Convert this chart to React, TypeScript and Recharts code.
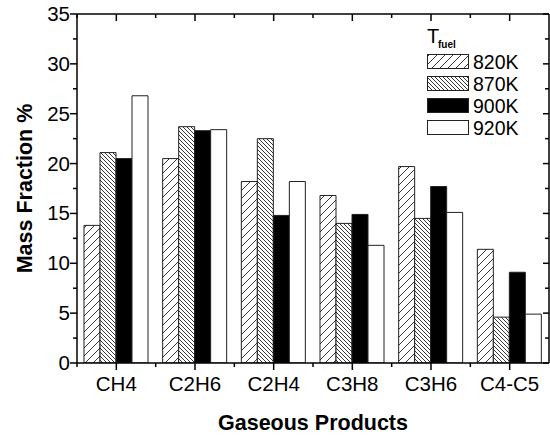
import React from 'react';
import { BarChart, Bar, XAxis, YAxis, Legend } from 'recharts';

const categories = ['CH4', 'C2H6', 'C2H4', 'C3H8', 'C3H6', 'C4-C5'];
const t820 = [13.8, 20.5, 18.2, 16.8, 19.7, 11.4];
const t870 = [21.1, 23.7, 22.5, 14.0, 14.5, 4.6];
const t900 = [20.5, 23.3, 14.8, 14.9, 17.7, 9.1];
const t920 = [26.8, 23.4, 18.2, 11.8, 15.1, 4.9];
const seriesNames = ['820K', '870K', '900K', '920K'];
const seriesKeys = ['t820', 't870', 't900', 't920'];
const seriesFills = ['url(#hatchFwd)', 'url(#hatchBack)', '#000000', '#ffffff'];
const yTicks = [0, 2.5, 5, 7.5, 10, 12.5, 15, 17.5, 20, 22.5, 25, 27.5, 30, 32.5, 35];

const data = categories.map((name, i) => ({
  name,
  t820: t820[i],
  t870: t870[i],
  t900: t900[i],
  t920: t920[i]
}));

const FONT = '"Liberation Sans", Arial, Helvetica, sans-serif';
const AX = '#000';

const BottomTick = (props: any) => {
  const { x, y, payload } = props;
  const half = payload.offset || 39.3;
  return <g>
      <line x1={x} y1={y} x2={x} y2={y + 7} stroke={AX} strokeWidth={1.5} />
      <line x1={x - half} y1={y} x2={x - half} y2={y + 4} stroke={AX} strokeWidth={1.5} />
      <text x={x} y={y + 28} textAnchor="middle" fontSize={20.5} fill="#000" fontFamily={FONT}>{payload.value}</text>
    </g>;
};

const TopTick = (props: any) => {
  const { x, y, payload } = props;
  const half = payload.offset || 39.3;
  return <g>
      <line x1={x} y1={y} x2={x} y2={y + 7} stroke={AX} strokeWidth={1.5} />
      <line x1={x - half} y1={y} x2={x - half} y2={y + 4} stroke={AX} strokeWidth={1.5} />
    </g>;
};

const LeftTick = (props: any) => {
  const { x, y, payload } = props;
  const major = payload.value % 5 === 0;
  return <g>
      <line x1={x - (major ? 7 : 4)} y1={y} x2={x} y2={y} stroke={AX} strokeWidth={1.5} />
      {major && <text x={x - 7} y={y + 7} textAnchor="end" fontSize={20.5} fill="#000" fontFamily={FONT}>{payload.value}</text>}
    </g>;
};

const RightTick = (props: any) => {
  const { x, y, payload } = props;
  const major = payload.value % 5 === 0;
  return <line x1={x - (major ? 6 : 4)} y1={y} x2={x} y2={y} stroke={AX} strokeWidth={1.5} />;
};

const LegendBox = () => <svg width={125} height={115} style={{ display: 'block' }}>
    <text x={0} y={18} fontSize={20} fontFamily={FONT} fill="#000">T</text>
    <text x={11} y={23} fontSize={10} fontWeight="bold" fontFamily={FONT} fill="#000">fuel</text>
    {seriesNames.map((n, i) => <g key={n}>
        <rect x={0.5} y={29.5 + 22 * i} width={41} height={14} fill={seriesFills[i]} stroke="#222" strokeWidth={1} />
        <text x={46} y={43.5 + 22 * i} fontSize={19.5} fontFamily={FONT} fill="#000">{n}</text>
      </g>)}
  </svg>;

export default function App() {
  return <div style={{ position: 'absolute', left: 0, top: 0, width: 550, height: 435, background: '#fff', fontFamily: FONT }}>
      <BarChart width={550} height={435} data={data} margin={{ top: 13, right: 0, bottom: 0, left: 0 }} barGap={0} barCategoryGap={7}>
        <defs>
          <pattern id="hatchFwd" patternUnits="userSpaceOnUse" width={8} height={8}>
            <rect width={8} height={8} fill="#fff" />
            <path d="M-2,2 L2,-2 M0,8 L8,0 M6,10 L10,6" stroke="#222" strokeWidth={0.9} />
          </pattern>
          <pattern id="hatchBack" patternUnits="userSpaceOnUse" width={4} height={4}>
            <rect width={4} height={4} fill="#fff" />
            <path d="M-1,3 L1,5 M0,0 L4,4 M3,-1 L5,1" stroke="#222" strokeWidth={0.9} />
          </pattern>
        </defs>
        <XAxis xAxisId="bottom" dataKey="name" height={72} axisLine={{ stroke: AX, strokeWidth: 1.5 }} tickLine={false} tickSize={0} tickMargin={0} tick={<BottomTick />} interval={0} label={{ value: 'Gaseous Products', position: 'insideBottom', offset: 5, fontSize: 21.5, fontWeight: 'bold', fill: '#000' }} />
        <XAxis xAxisId="top" dataKey="name" orientation="top" height={1} axisLine={{ stroke: AX, strokeWidth: 1.5 }} tickLine={false} tickSize={0} tickMargin={0} tick={<TopTick />} interval={0} />
        <YAxis yAxisId="left" width={77} domain={[0, 35]} ticks={yTicks} interval={0} allowDataOverflow axisLine={{ stroke: AX, strokeWidth: 1.5 }} tickLine={false} tickSize={0} tickMargin={0} tick={<LeftTick />} label={{ value: 'Mass Fraction %', angle: -90, position: 'insideLeft', offset: 24, fontSize: 21.5, fontWeight: 'bold', fill: '#000', style: { textAnchor: 'middle' } }} />
        <YAxis yAxisId="right" orientation="right" width={1} domain={[0, 35]} ticks={yTicks} interval={0} allowDataOverflow axisLine={{ stroke: AX, strokeWidth: 1.5 }} tickLine={false} tickSize={0} tickMargin={0} tick={<RightTick />} />
        <Legend layout="vertical" align="center" verticalAlign="middle" wrapperStyle={{ left: 427, top: 25, width: 125 }} content={() => <LegendBox />} />
        {seriesKeys.map((k, i) => <Bar key={k} dataKey={k} name={seriesNames[i]} xAxisId="bottom" yAxisId="left" fill={seriesFills[i]} stroke="#222" strokeWidth={1} isAnimationActive={false} />)}
      </BarChart>
    </div>;
}
